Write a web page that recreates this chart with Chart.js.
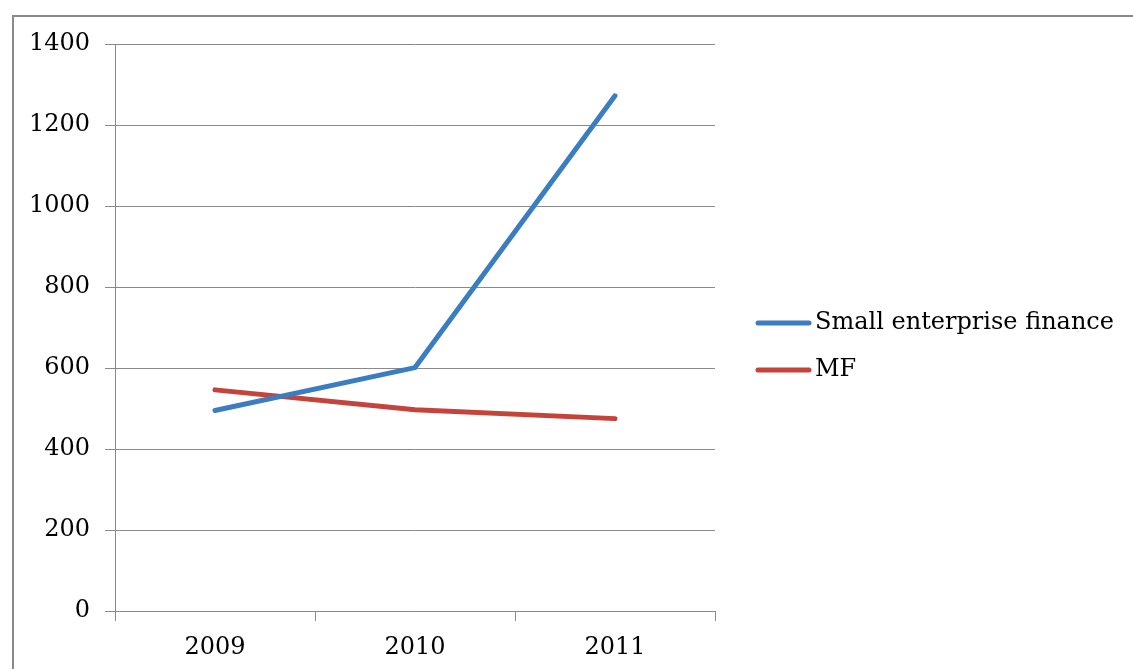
<!DOCTYPE html>
<html>
<head>
<meta charset="utf-8">
<script src="https://cdn.jsdelivr.net/npm/chart.js@4.4.1/dist/chart.umd.min.js"></script>
<style>
  html, body { margin: 0; padding: 0; background: #fff; overflow: hidden; }
  #frame {
    position: absolute; left: 12px; top: 15px; width: 1200px; height: 700px;
    border-left: 2px solid #8a8a8a; border-top: 2px solid #8a8a8a;
  }
  #wrap { position: absolute; left: 0; top: 0; width: 1133px; height: 669px; }
</style>
</head>
<body>
<div id="frame"></div>
<div id="wrap"><canvas id="myChart" width="1133" height="669"></canvas></div>
<script>
const years = ['2009', '2010', '2011'];
const smallEnterprise = [495, 601, 1272];
const mf = [546, 497, 475];
const yTicks = [0, 200, 400, 600, 800, 1000, 1200, 1400];

const fontFamily = "'DejaVu Serif', serif";
const gridColor = '#8a8a8a';

// legend on the right, drawn from the datasets
const sideLegend = {
  id: 'sideLegend',
  afterDraw(chart) {
    const c = chart.ctx;
    const rows = [323, 370];
    c.save();
    c.font = '24px ' + fontFamily;
    c.textBaseline = 'middle';
    c.fillStyle = '#000';
    chart.data.datasets.forEach((ds, i) => {
      const y = rows[i];
      c.strokeStyle = ds.borderColor;
      c.lineWidth = ds.borderWidth;
      c.lineCap = 'round';
      c.beginPath();
      c.moveTo(758, y);
      c.lineTo(809, y);
      c.stroke();
      c.fillText(ds.label, 815, y);
    });
    c.restore();
  }
};

const ctx = document.getElementById('myChart');
new Chart(ctx, {
  type: 'line',
  data: {
    labels: years,
    datasets: [{
      label: 'Small enterprise finance',
      data: smallEnterprise,
      borderColor: '#3a7dc0',
      backgroundColor: '#3a7dc0',
      borderWidth: 5,
      borderCapStyle: 'round',
      pointRadius: 0,
      tension: 0
    }, {
      label: 'MF',
      data: mf,
      borderColor: '#c5433b',
      backgroundColor: '#c5433b',
      borderWidth: 5,
      borderCapStyle: 'round',
      pointRadius: 0,
      tension: 0
    }]
  },
  options: {
    responsive: false,
    animation: false,
    layout: { padding: { left: 0, top: 44, right: 418, bottom: 0 } },
    plugins: { legend: { display: false }, tooltip: { enabled: false } },
    scales: {
      x: {
        offset: true,
        grid: {
          offset: true,
          drawOnChartArea: false,
          drawTicks: true,
          tickLength: 10,
          color: gridColor,
          lineWidth: 1
        },
        border: { color: gridColor, width: 1 },
        ticks: { color: '#000', font: { family: fontFamily, size: 24 }, padding: 12 },
        afterFit(scale) { scale.height = 58; }
      },
      y: {
        min: 0,
        max: 1400,
        afterBuildTicks(scale) { scale.ticks = yTicks.map(v => ({ value: v })); },
        grid: { color: gridColor, lineWidth: 1, tickLength: 10 },
        border: { color: gridColor, width: 1 },
        ticks: {
          color: '#000',
          font: { family: fontFamily, size: 24 },
          padding: 15,
          callback: v => String(v)
        },
        afterFit(scale) { scale.width = 115; }
      }
    }
  },
  plugins: [sideLegend]
});
</script>
</body>
</html>
